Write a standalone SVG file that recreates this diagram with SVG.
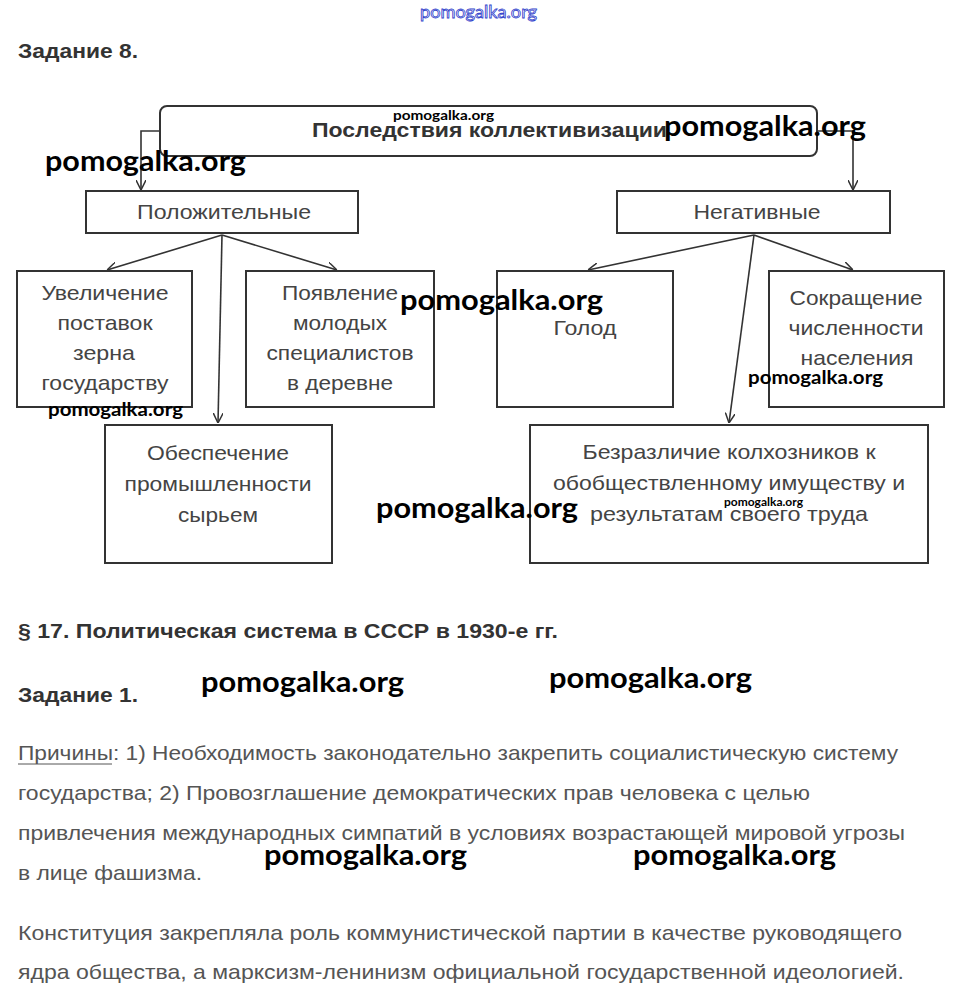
<svg xmlns="http://www.w3.org/2000/svg" width="954" height="996" viewBox="0 0 954 996">
<style>
.bg{fill:#fff}
.box{fill:#fff;stroke:#333;stroke-width:2}
.con{fill:none;stroke:#333;stroke-width:1.6}
.bt{font-family:"Liberation Sans",Arial,sans-serif;font-size:21px;fill:#444;text-anchor:middle}
.h{font-family:"Liberation Sans",Arial,sans-serif;font-size:21px;font-weight:bold;fill:#333}
.p{font-family:"Liberation Sans",Arial,sans-serif;font-size:21px;fill:#555}
.wm{font-family:Lato,"Open Sans",sans-serif;font-weight:bold;fill:#000}
</style>
<defs>
<marker id="arr" viewBox="0 0 10 10" refX="10" refY="5" markerWidth="10" markerHeight="10" markerUnits="userSpaceOnUse" orient="auto">
<path d="M0,0 L10,5 L0,10" fill="none" stroke="#333" stroke-width="1.5"/>
</marker>
</defs>
<rect class="bg" x="0" y="0" width="954" height="996"/>

<text x="18" y="58" class="h" textLength="120" lengthAdjust="spacingAndGlyphs">Задание 8.</text>

<g id="connectors">
<path class="con" d="M160,131 H141 V190" marker-end="url(#arr)"/>
<path class="con" d="M817,131 H853 V190" marker-end="url(#arr)"/>
<path class="con" d="M222,235 L107,270" marker-end="url(#arr)"/>
<path class="con" d="M222,235 L337,270" marker-end="url(#arr)"/>
<path class="con" d="M222,235 L218,423" marker-end="url(#arr)"/>
<path class="con" d="M754,235 L588,270" marker-end="url(#arr)"/>
<path class="con" d="M754,235 L853,270" marker-end="url(#arr)"/>
<path class="con" d="M754,235 L729,423" marker-end="url(#arr)"/>
</g>

<g id="root">
<rect class="box" x="160" y="106" width="657" height="50" rx="7" stroke-width="1.6"/>
<text x="312" y="137" class="h" textLength="355" lengthAdjust="spacingAndGlyphs">Последствия коллективизации</text>
</g>

<g id="positive">
<rect class="box" x="86" y="191" width="272" height="42"/>
<text x="224" y="219" class="bt" textLength="174" lengthAdjust="spacingAndGlyphs">Положительные</text>
</g>

<g id="negative">
<rect class="box" x="617" y="191" width="273" height="42"/>
<text x="757" y="219" class="bt" textLength="127" lengthAdjust="spacingAndGlyphs">Негативные</text>
</g>

<g id="grain">
<rect class="box" x="17" y="271" width="175" height="136"/>
<text x="105" y="300" class="bt" textLength="127" lengthAdjust="spacingAndGlyphs">Увеличение</text>
<text x="105" y="330" class="bt" textLength="95" lengthAdjust="spacingAndGlyphs">поставок</text>
<text x="104" y="360" class="bt" textLength="62" lengthAdjust="spacingAndGlyphs">зерна</text>
<text x="105" y="390" class="bt" textLength="127" lengthAdjust="spacingAndGlyphs">государству</text>
</g>

<g id="specialists">
<rect class="box" x="246" y="271" width="188" height="136"/>
<text x="340" y="300" class="bt" textLength="116" lengthAdjust="spacingAndGlyphs">Появление</text>
<text x="340" y="330" class="bt" textLength="94" lengthAdjust="spacingAndGlyphs">молодых</text>
<text x="340" y="360" class="bt" textLength="147" lengthAdjust="spacingAndGlyphs">специалистов</text>
<text x="340" y="390" class="bt" textLength="106" lengthAdjust="spacingAndGlyphs">в деревне</text>
</g>

<g id="industry">
<rect class="box" x="105" y="425" width="227" height="138"/>
<text x="218" y="460" class="bt" textLength="142" lengthAdjust="spacingAndGlyphs">Обеспечение</text>
<text x="218" y="491" class="bt" textLength="187" lengthAdjust="spacingAndGlyphs">промышленности</text>
<text x="218" y="522" class="bt" textLength="80" lengthAdjust="spacingAndGlyphs">сырьем</text>
</g>

<g id="famine">
<rect class="box" x="497" y="271" width="176" height="136"/>
<text x="585" y="335" class="bt" textLength="63" lengthAdjust="spacingAndGlyphs">Голод</text>
</g>

<g id="population">
<rect class="box" x="769" y="271" width="175" height="136"/>
<text x="856" y="305" class="bt" textLength="133" lengthAdjust="spacingAndGlyphs">Сокращение</text>
<text x="856" y="335" class="bt" textLength="135" lengthAdjust="spacingAndGlyphs">численности</text>
<text x="857" y="365" class="bt" textLength="113" lengthAdjust="spacingAndGlyphs">населения</text>
</g>

<g id="indifference">
<rect class="box" x="530" y="425" width="398" height="138"/>
<text x="729" y="459" class="bt" textLength="293" lengthAdjust="spacingAndGlyphs">Безразличие колхозников к</text>
<text x="729" y="490" class="bt" textLength="352" lengthAdjust="spacingAndGlyphs">обобществленному имуществу и</text>
<text x="729" y="521" class="bt" textLength="278" lengthAdjust="spacingAndGlyphs">результатам своего труда</text>
</g>

<text x="18" y="638" class="h" textLength="540" lengthAdjust="spacingAndGlyphs">§ 17. Политическая система в СССР в 1930-е гг.</text>
<text x="18" y="702" class="h" textLength="120" lengthAdjust="spacingAndGlyphs">Задание 1.</text>

<text x="18" y="760" class="p" textLength="880" lengthAdjust="spacingAndGlyphs">Причины: 1) Необходимость законодательно закрепить социалистическую систему</text>
<line x1="18" y1="764" x2="112" y2="764" stroke="#555" stroke-width="1"/>
<text x="18" y="800" class="p" textLength="792" lengthAdjust="spacingAndGlyphs">государства; 2) Провозглашение демократических прав человека с целью</text>
<text x="18" y="840" class="p" textLength="887" lengthAdjust="spacingAndGlyphs">привлечения международных симпатий в условиях возрастающей мировой угрозы</text>
<text x="18" y="880" class="p" textLength="184" lengthAdjust="spacingAndGlyphs">в лице фашизма.</text>
<text x="18" y="940" class="p" textLength="884" lengthAdjust="spacingAndGlyphs">Конституция закрепляла роль коммунистической партии в качестве руководящего</text>
<text x="18" y="979" class="p" textLength="886" lengthAdjust="spacingAndGlyphs">ядра общества, а марксизм-ленинизм официальной государственной идеологией.</text>

<g id="watermarks">
<text x="420" y="18" font-family="Lato,sans-serif" font-size="17" fill="#fff" stroke="#3344cc" stroke-width="0.8" textLength="117" lengthAdjust="spacingAndGlyphs">pomogalka.org</text>
<text x="393" y="120" class="wm" font-weight="normal" font-size="13" textLength="101" lengthAdjust="spacingAndGlyphs">pomogalka.org</text>
<text x="664" y="136" class="wm" font-size="28" textLength="202" lengthAdjust="spacingAndGlyphs">pomogalka.org</text>
<text x="45" y="171" class="wm" font-size="28" textLength="201" lengthAdjust="spacingAndGlyphs">pomogalka.org</text>
<text x="400" y="310" class="wm" font-size="28" textLength="203" lengthAdjust="spacingAndGlyphs">pomogalka.org</text>
<text x="48" y="416" class="wm" font-size="19" textLength="135" lengthAdjust="spacingAndGlyphs">pomogalka.org</text>
<text x="748" y="384" class="wm" font-size="19" textLength="135" lengthAdjust="spacingAndGlyphs">pomogalka.org</text>
<text x="376" y="518" class="wm" font-size="28" textLength="202" lengthAdjust="spacingAndGlyphs">pomogalka.org</text>
<text x="724" y="506" class="wm" font-weight="normal" font-size="12" textLength="79" lengthAdjust="spacingAndGlyphs">pomogalka.org</text>
<text x="201" y="692" class="wm" font-size="28" textLength="203" lengthAdjust="spacingAndGlyphs">pomogalka.org</text>
<text x="549" y="688" class="wm" font-size="28" textLength="203" lengthAdjust="spacingAndGlyphs">pomogalka.org</text>
<text x="264" y="865" class="wm" font-size="28" textLength="203" lengthAdjust="spacingAndGlyphs">pomogalka.org</text>
<text x="633" y="865" class="wm" font-size="28" textLength="203" lengthAdjust="spacingAndGlyphs">pomogalka.org</text>
</g>
</svg>
